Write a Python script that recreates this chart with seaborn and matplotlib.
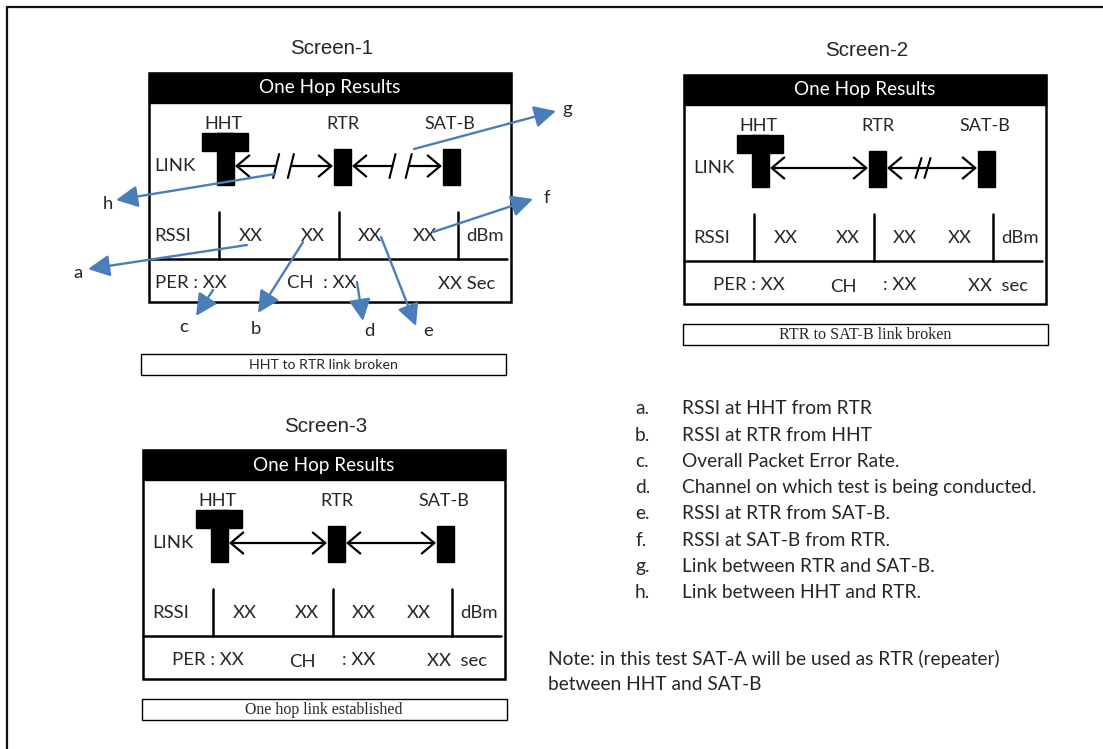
import matplotlib
matplotlib.use("Agg")
import matplotlib.pyplot as plt
import seaborn as sns
from matplotlib.patches import Rectangle

sns.set_theme(style="white")
plt.rcParams["font.family"] = ["Lato", "DejaVu Sans"]

# ---- content ----
screen_titles = ["Screen-1", "Screen-2", "Screen-3"]
captions = ["HHT to RTR link broken", "RTR to SAT-B link broken", "One hop link established"]
header_text = "One Hop Results"
node_labels = ["HHT", "RTR", "SAT-B"]
rssi_values = ["XX", "XX", "XX", "XX"]
# link state per screen: (HHT-RTR, RTR-SAT-B)
link_states = [("gap", "gap"), ("ok", "slash"), ("ok", "ok")]
callout_letters = ["a", "b", "c", "d", "e", "f", "g", "h"]
legend_letters = ["a.", "b.", "c.", "d.", "e.", "f.", "g.", "h."]
legend_texts = [
    "RSSI at HHT from RTR",
    "RSSI at RTR from HHT",
    "Overall Packet Error Rate.",
    "Channel on which test is being conducted.",
    "RSSI at RTR from SAT-B.",
    "RSSI at SAT-B from RTR.",
    "Link between RTR and SAT-B.",
    "Link between HHT and RTR.",
]
note_lines = [
    "Note: in this test SAT-A will be used as RTR (repeater)",
    "between HHT and SAT-B",
]

BLUE = "#4a7ebb"
FS = 13.3      # text inside the screens
FS_LEG = 13.8  # legend and note


def link_arrow(ax, xa, xb, y, style="<->"):
    ax.annotate("", xy=(xb, y), xytext=(xa, y),
                arrowprops=dict(arrowstyle=style + ",head_length=0.5,head_width=0.42",
                                color="black", lw=1.6, mutation_scale=18,
                                shrinkA=0, shrinkB=0))


def slash(ax, x, y, half=12):
    ax.plot([x - 3, x + 3], [y + half, y - half], color="black", lw=1.5)


def draw_link(ax, xa, xb, y, state, fracs=(0.42, 0.57)):
    if state == "ok":
        link_arrow(ax, xa, xb, y)
    elif state == "slash":
        mid = xa + (xb - xa) * 0.35
        link_arrow(ax, xa, xb, y)
        slash(ax, mid, y, 10)
        slash(ax, mid + 9, y, 10)
    else:
        m1 = xa + (xb - xa) * fracs[0]
        m2 = xa + (xb - xa) * fracs[1]
        link_arrow(ax, m1, xa, y, "->")
        link_arrow(ax, m2, xb, y, "->")
        slash(ax, m1, y)
        slash(ax, m2, y)


def draw_screen(ax, x0, y0, i, cap_dx, cap_dy, cap_font, cap_fs, first=False):
    W, H = 362, 229
    ax.text(x0 + W / 2 + 2, y0 - 24, screen_titles[i], family=["Liberation Sans"],
            fontsize=14.8, ha="center", va="center")
    ax.add_patch(Rectangle((x0, y0), W, H, fill=False, lw=1.8, ec="black"))
    ax.add_patch(Rectangle((x0, y0), W, 30, color="black"))
    ax.text(x0 + W / 2, y0 + 15, header_text, color="white", fontsize=13.6,
            ha="center", va="center")

    # nodes
    for lbl, dx in zip(node_labels, [74, 194, 301]):
        ax.text(x0 + dx, y0 + 51, lbl, fontsize=13, ha="center", va="center")
    ax.add_patch(Rectangle((x0 + 53, y0 + 60), 46, 18, color="black"))
    ax.add_patch(Rectangle((x0 + 68, y0 + 60), 17, 52, color="black"))
    ax.add_patch(Rectangle((x0 + 185, y0 + 76), 17, 36, color="black"))
    ax.add_patch(Rectangle((x0 + 294, y0 + 76), 17, 36, color="black"))
    ly = y0 + 93
    lx = 5 if first else 9
    ax.text(x0 + lx, ly, "LINK", fontsize=FS, ha="left", va="center")
    draw_link(ax, x0 + 86, x0 + 184, ly, link_states[i][0], (0.42, 0.57))
    draw_link(ax, x0 + 203, x0 + 293, ly, link_states[i][1], (0.45, 0.63))

    # rssi row
    for dx in [70, 190, 309]:
        ax.plot([x0 + dx, x0 + dx], [y0 + 139, y0 + 186], color="black", lw=1.8)
    ax.plot([x0, x0 + 358], [y0 + 186, y0 + 186], color="black", lw=1.8)
    ry = y0 + 163
    ax.text(x0 + lx, ry, "RSSI", fontsize=FS, ha="left", va="center")
    for v, dx in zip(rssi_values, [102, 164, 221, 276]):
        ax.text(x0 + dx, ry, v, fontsize=FS, ha="center", va="center")
    ax.text(x0 + 336, ry, "dBm", fontsize=FS, ha="center", va="center")

    # bottom row
    by = y0 + 210
    if first:
        ax.text(x0 + 6, by, "PER : XX", fontsize=FS, ha="left", va="center")
        ax.text(x0 + 138, by, "CH  : XX", fontsize=FS, ha="left", va="center")
        ax.text(x0 + 346, by + 1, "XX Sec", fontsize=FS, ha="right", va="center")
    else:
        ax.text(x0 + 29, by, "PER : XX", fontsize=FS, ha="left", va="center")
        ax.text(x0 + 159, by + 2, "CH", fontsize=FS, ha="center", va="center")
        ax.text(x0 + 216, by, ": XX", fontsize=FS, ha="center", va="center")
        ax.text(x0 + 314, by + 1, "XX  sec", fontsize=FS, ha="center", va="center")

    # caption box
    ax.add_patch(Rectangle((x0 + cap_dx, y0 + cap_dy), 365, 21, fill=False,
                           lw=1.0, ec="black"))
    ax.text(x0 + cap_dx + 182, y0 + cap_dy + 11, captions[i], family=cap_font,
            fontsize=cap_fs, ha="center", va="center")


fig = plt.figure(figsize=(11.03, 7.49), dpi=100)
ax = fig.add_axes([0, 0, 1, 1])
ax.set_xlim(0, 1103)
ax.set_ylim(749, 0)
ax.axis("off")

# outer frame (top and left edges visible)
ax.plot([7, 1103], [7, 7], color="#111111", lw=1.6)
ax.plot([7, 7], [7, 749], color="#111111", lw=1.6)

draw_screen(ax, 149, 73, 0, -8, 281, ["Lato"], 10.2, first=True)
draw_screen(ax, 684, 75, 1, -1, 249, ["Liberation Serif"], 11.6)
draw_screen(ax, 143, 450, 2, -1, 249, ["Liberation Serif"], 11.4)

# callouts on screen 1: tail -> tip, label position
callouts = {
    "a": ((247, 245), (88, 269), (78, 273)),
    "b": ((303, 242), (258, 313), (256, 329)),
    "c": ((213, 290), (196, 316), (184, 327)),
    "d": ((357, 282), (363, 321), (369, 331)),
    "e": ((381, 237), (416, 326), (428, 331)),
    "f": ((433, 232), (533, 199), (547, 198)),
    "g": ((414, 149), (556, 111), (567, 109)),
    "h": ((275, 174), (116, 200), (108, 204)),
}
for letter in callout_letters:
    tail, tip, lab = callouts[letter]
    ax.annotate("", xy=tip, xytext=tail,
                arrowprops=dict(arrowstyle="-|>,head_length=0.6,head_width=0.3",
                                color=BLUE, lw=1.7, mutation_scale=22,
                                shrinkA=0, shrinkB=0))
    ax.text(lab[0], lab[1], letter, fontsize=FS, ha="center", va="center")

# legend list
for k, (l, t) in enumerate(zip(legend_letters, legend_texts)):
    y = 409 + k * 26.2
    ax.text(635, y, l, fontsize=FS_LEG, ha="left", va="center")
    ax.text(682, y, t, fontsize=FS_LEG, ha="left", va="center")

for k, line in enumerate(note_lines):
    ax.text(548, 659 + k * 26, line, fontsize=FS_LEG, ha="left", va="center")

fig.savefig("out.png", dpi=100)
